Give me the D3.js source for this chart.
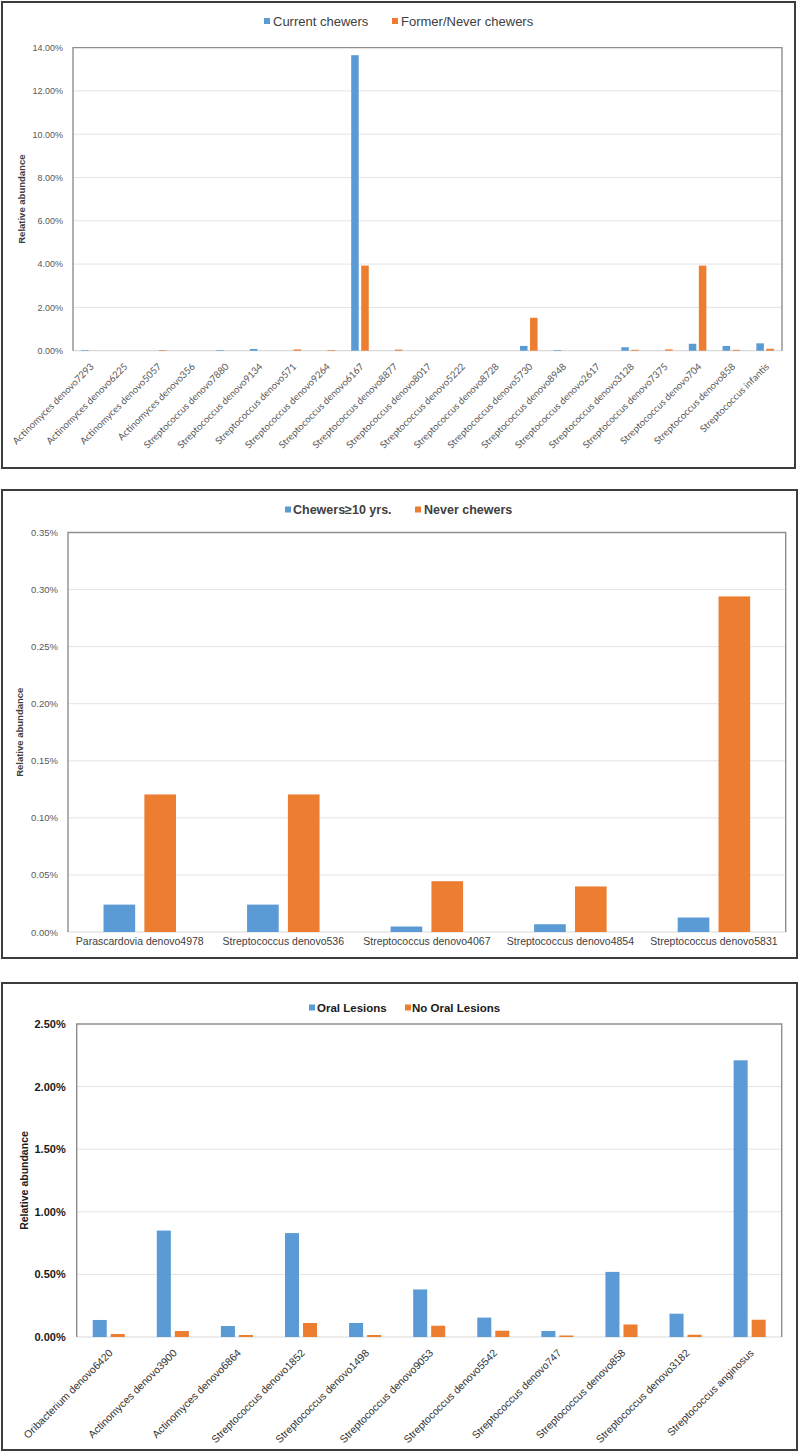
<!DOCTYPE html>
<html><head><meta charset="utf-8">
<script src="https://cdn.jsdelivr.net/npm/d3@7"></script>
<style>body{margin:0;background:#fff} svg{display:block}</style>
</head><body>
<svg id="chart" width="800" height="1452"></svg>
<script>
// ---------- DATA ----------
const p1Categories = ["Actinomyces denovo7293","Actinomyces denovo6225","Actinomyces denovo5057","Actinomyces denovo356",
  "Streptococcus denovo7880","Streptococcus denovo9134","Streptococcus denovo571","Streptococcus denovo9264",
  "Streptococcus denovo6167","Streptococcus denovo8877","Streptococcus denovo8017","Streptococcus denovo5222",
  "Streptococcus denovo8728","Streptococcus denovo5730","Streptococcus denovo8948","Streptococcus denovo2617",
  "Streptococcus denovo3128","Streptococcus denovo7375","Streptococcus denovo704","Streptococcus denovo858",
  "Streptococcus infantis"];
const p1SeriesNames = ["Current chewers","Former/Never chewers"];
const p1Current = [0.03,0,0,0,0.03,0.08,0,0,13.65,0,0,0,0,0.22,0.03,0,0.16,0,0.32,0.22,0.34];
const p1Former  = [0,0,0.03,0,0,0,0.06,0.03,3.93,0.05,0,0,0,1.52,0,0,0.04,0.06,3.93,0.04,0.09];
const p1Ticks = [0,2,4,6,8,10,12,14];

const p2Categories = ["Parascardovia denovo4978","Streptococcus denovo536","Streptococcus denovo4067","Streptococcus denovo4854","Streptococcus denovo5831"];
const p2SeriesNames = ["Chewers\u226510 yrs.","Never chewers"];
const p2Chewers = [0.024,0.024,0.0048,0.0068,0.0127];
const p2Never   = [0.1205,0.1205,0.0445,0.0399,0.294];
const p2Ticks = [0,0.05,0.10,0.15,0.20,0.25,0.30,0.35];

const p3Categories = ["Oribacterium denovo6420","Actinomyces denovo3900","Actinomyces denovo6864","Streptococcus denovo1852",
  "Streptococcus denovo1498","Streptococcus denovo9053","Streptococcus denovo5542","Streptococcus denovo747",
  "Streptococcus denovo858","Streptococcus denovo3182","Streptococcus anginosus"];
const p3SeriesNames = ["Oral Lesions","No Oral Lesions"];
const p3Lesions   = [0.136,0.85,0.088,0.83,0.112,0.38,0.155,0.048,0.52,0.186,2.21];
const p3NoLesions = [0.024,0.048,0.016,0.112,0.016,0.09,0.05,0.012,0.10,0.018,0.138];
const p3Ticks = [0,0.5,1.0,1.5,2.0,2.5];

// ---------- DRAW ----------
const BLUE = "#5B9BD5", ORANGE = "#ED7D31";
const svg = d3.select("#chart");

function drawPanel(c) {
  const g = svg.append("g");
  g.append("rect").attr("x", c.frame[0]).attr("y", c.frame[1])
    .attr("width", c.frame[2]-c.frame[0]).attr("height", c.frame[3]-c.frame[1])
    .attr("fill", "#fff").attr("stroke", "#3c3c3c").attr("stroke-width", 2);

  const {l, t, r, b} = c.plot;
  const y = d3.scaleLinear().domain([0, d3.max(c.ticks)]).range([b, t]);
  const x0 = d3.scaleBand().domain(c.categories).range([l, r])
    .paddingInner(c.pi).paddingOuter(c.pi/2);
  const x1 = d3.scaleBand().domain([0,1]).range([0, x0.bandwidth()]).paddingInner(c.q);

  g.selectAll(null).data(c.ticks.filter(d => d > 0 && d < d3.max(c.ticks))).join("line")
    .attr("x1", l).attr("x2", r).attr("y1", d => y(d)).attr("y2", d => y(d))
    .attr("stroke", "#e4e4e4").attr("stroke-width", 1);
  g.append("line").attr("x1", l).attr("x2", r).attr("y1", b).attr("y2", b)
    .attr("stroke", "#dadada").attr("stroke-width", 1.2);
  g.append("path").attr("d", `M${l},${b}V${t}H${r}V${b}`)
    .attr("fill", "none").attr("stroke", "#8e8e8e").attr("stroke-width", 1.4);

  const series = [c.s1, c.s2];
  const colors = [BLUE, ORANGE];
  series.forEach((vals, j) => {
    g.selectAll(null).data(c.categories).join("rect")
      .attr("x", (d) => x0(d) + x1(j))
      .attr("y", (d, i) => y(vals[i]))
      .attr("width", x1.bandwidth())
      .attr("height", (d, i) => b - y(vals[i]))
      .attr("fill", colors[j]);
  });

  const ya = g.append("g").attr("transform", `translate(${l},0)`)
    .call(d3.axisLeft(y).tickValues(c.ticks).tickSize(0).tickPadding(c.yPad).tickFormat(c.fmt));
  ya.select(".domain").remove();
  ya.selectAll("text").style("font-family", c.yFont).style("font-size", c.yFontSize)
    .style("font-weight", c.yWeight).attr("fill", c.yColor);

  const xa = g.append("g").attr("transform", `translate(0,${b})`)
    .call(d3.axisBottom(x0).tickSize(0).tickPadding(6));
  xa.select(".domain").remove();
  const xt = xa.selectAll("text").style("font-family", c.xFont).style("font-size", c.xFontSize)
    .attr("fill", c.xColor);
  if (c.rotate) {
    xt.attr("text-anchor", "end").attr("transform", "rotate(-45)")
      .attr("x", c.rx).attr("y", c.ry).attr("dy", "0.35em");
  }

  g.append("text").attr("transform", `translate(${c.titleX},${(t+b)/2}) rotate(-90)`)
    .attr("text-anchor", "middle").attr("dy", "0.35em")
    .style("font-family", "Liberation Sans, Arial, sans-serif").style("font-size", c.titleSize)
    .style("font-weight", "bold").attr("fill", c.titleColor).text("Relative abundance");

  c.legend.forEach((L, j) => {
    g.append("rect").attr("x", L.sx).attr("y", c.legendY - c.sq/2).attr("width", c.sq).attr("height", c.sq)
      .attr("fill", colors[j]);
    g.append("text").attr("x", L.tx).attr("y", c.legendY).attr("dy", "0.35em")
      .style("font-family", "Liberation Sans, Arial, sans-serif").style("font-size", c.legSize)
      .style("font-weight", c.legWeight).attr("fill", c.legColor).text(c.names[j]);
  });
}

const pctFmt = d3.format(".2f");

drawPanel({
  frame: [2, 2, 795, 468],
  plot: {l: 73, t: 47.6, r: 782, b: 350.7},
  categories: p1Categories, s1: p1Current, s2: p1Former, names: p1SeriesNames,
  ticks: p1Ticks, fmt: d => pctFmt(d) + "%",
  pi: 0.48, q: 0.25,
  yPad: 10, yFont: "Liberation Sans, Arial, sans-serif", yFontSize: "9px", yWeight: "normal", yColor: "#595959",
  xFont: "Lato, Liberation Sans, sans-serif", xFontSize: "9.6px", xColor: "#595959",
  rotate: true, rx: -8.5, ry: 11.5,
  titleX: 22, titleSize: "9.5px", titleColor: "#404040",
  legendY: 21, sq: 6, legSize: "13px", legWeight: "normal", legColor: "#404040",
  legend: [{sx: 264, tx: 273}, {sx: 392, tx: 401}]
});

drawPanel({
  frame: [2, 490, 797, 958],
  plot: {l: 68, t: 532.5, r: 785.7, b: 932},
  categories: p2Categories, s1: p2Chewers, s2: p2Never, names: p2SeriesNames,
  ticks: p2Ticks, fmt: d => pctFmt(d) + "%",
  pi: 0.495, q: 0.225,
  yPad: 10, yFont: "Liberation Sans, Arial, sans-serif", yFontSize: "9.5px", yWeight: "normal", yColor: "#595959",
  xFont: "Liberation Sans, Arial, sans-serif", xFontSize: "10.5px", xColor: "#404040",
  rotate: false,
  titleX: 20, titleSize: "9.5px", titleColor: "#404040",
  legendY: 509.5, sq: 6, legSize: "12.5px", legWeight: "bold", legColor: "#404040",
  legend: [{sx: 285, tx: 293}, {sx: 415, tx: 424}]
});

drawPanel({
  frame: [2, 983, 797, 1450],
  plot: {l: 76.7, t: 1024, r: 781.7, b: 1337},
  categories: p3Categories, s1: p3Lesions, s2: p3NoLesions, names: p3SeriesNames,
  ticks: p3Ticks, fmt: d => pctFmt(d) + "%",
  pi: 0.5, q: 0.222,
  yPad: 11, yFont: "Liberation Sans, Arial, sans-serif", yFontSize: "11px", yWeight: "bold", yColor: "#1a1a1a",
  xFont: "Liberation Sans, Arial, sans-serif", xFontSize: "10.5px", xColor: "#333333",
  rotate: true, rx: -8.5, ry: 11.5,
  titleX: 24, titleSize: "10.5px", titleColor: "#1a1a1a",
  legendY: 1007.5, sq: 6, legSize: "11.5px", legWeight: "bold", legColor: "#1a1a1a",
  legend: [{sx: 309, tx: 317}, {sx: 405, tx: 412}]
});
</script>
</body></html>
